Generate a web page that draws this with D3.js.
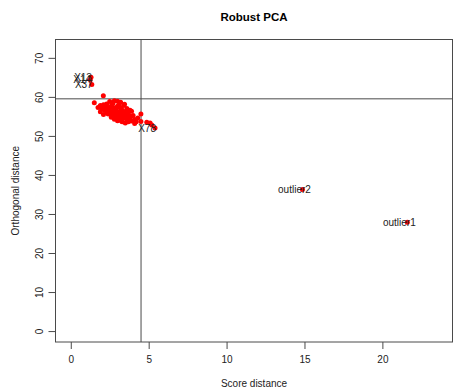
<!DOCTYPE html>
<html>
<head>
<meta charset="utf-8">
<script src="https://cdn.jsdelivr.net/npm/d3@7"></script>
<style>
  html, body { margin: 0; padding: 0; background: #fff; }
  svg { display: block; font-family: "Liberation Sans", Arial, sans-serif; }
</style>
</head>
<body>
<svg id="chart" width="453" height="389"></svg>
<script>
// Score distance (SD) and orthogonal distance (OD) for the regular observations
const scoreDist = [
  1.51, 2.09, 1.9, 2.0, 2.1, 2.2, 2.3, 2.4, 2.2, 2.5, 2.6, 2.7, 2.8, 2.6, 2.3, 2.0, 2.4, 2.7, 2.9, 3.0,
  3.1, 3.2, 3.3, 3.1, 2.9, 3.0, 3.2, 3.4, 3.5, 3.6, 3.4, 3.7, 3.8, 3.6, 3.3, 3.0, 2.8, 3.9, 4.1, 4.2,
  4.0, 3.9, 2.5, 2.8, 3.2, 2.1, 1.9, 2.6, 3.5, 3.7, 4.5, 4.5, 4.88, 5.09, 5.2, 2.45, 2.75, 3.05, 3.35, 2.55,
  2.85, 3.15, 3.45, 3.75, 2.35, 2.95, 3.25, 3.55, 3.85, 4.3, 4.1, 2.15, 2.65, 3.45, 3.65, 3.05, 2.75, 3.25, 3.55, 1.75,
  2.55, 3.0, 3.8, 3.3
];
const orthoDist = [
  58.5, 60.3, 57.8, 57.2, 58.0, 57.5, 58.2, 57.0, 56.6, 56.4, 57.6, 58.3, 57.1, 56.0, 56.1, 56.8, 55.6, 55.4, 56.6, 57.6,
  58.0, 57.2, 56.5, 55.8, 55.0, 54.6, 54.2, 55.3, 56.0, 57.0, 57.8, 55.6, 54.8, 54.2, 53.6, 53.9, 54.3, 53.8, 54.2, 53.6,
  55.2, 56.3, 58.8, 59.0, 58.6, 55.5, 56.2, 54.8, 53.3, 53.6, 55.6, 53.7, 53.5, 53.3, 52.8, 57.3, 56.8, 56.2, 55.7, 55.9,
  55.6, 55.1, 54.6, 54.3, 56.9, 57.3, 56.9, 56.4, 55.0, 54.6, 53.2, 57.7, 57.9, 58.1, 55.2, 55.4, 55.9, 53.8, 54.8, 57.3,
  57.4, 58.9, 56.6, 54.8
];

// Flagged observations, drawn with their labels
const flagNames = ["X13", "X14", "X37", "X78", "outlier2", "outlier1"];
const flagScore = [1.3, 1.25, 1.35, 5.41, 14.87, 21.6];
const flagOrtho = [65.0, 64.4, 63.2, 52.0, 36.3, 27.9];

// Cutoff values
const cutoffScore = 4.51;
const cutoffOrtho = 59.5;

// Axis ticks
const xTicks = [0, 5, 10, 15, 20];
const yTicks = [0, 10, 20, 30, 40, 50, 60, 70];

const svg = d3.select("#chart");
const plotLeft = 55.5, plotRight = 452.5, plotTop = 39.5, plotBottom = 342;

const x = d3.scaleLinear().domain([-0.98, 24.5]).range([plotLeft, plotRight]);
const y = d3.scaleLinear().domain([-2.8, 74.7]).range([plotBottom, plotTop]);

const axisColor = "#4a4a4a";
const textColor = "#222";

// Title
svg.append("text")
  .attr("x", (plotLeft + plotRight) / 2).attr("y", 21)
  .attr("text-anchor", "middle")
  .attr("font-weight", "bold").attr("font-size", 11.5)
  .attr("fill", "#000")
  .text("Robust PCA");

// Plot frame
svg.append("rect")
  .attr("x", plotLeft).attr("y", plotTop)
  .attr("width", plotRight - plotLeft).attr("height", plotBottom - plotTop)
  .attr("fill", "none").attr("stroke", axisColor).attr("stroke-width", 1);

// Bottom axis
const gx = svg.append("g")
  .attr("transform", `translate(0,${plotBottom})`)
  .call(d3.axisBottom(x).tickValues(xTicks).tickSize(7).tickPadding(7));
gx.select(".domain").remove();
gx.selectAll("line").attr("stroke", axisColor);
gx.selectAll("text").attr("font-size", 10).attr("fill", textColor)
  .attr("font-family", "Liberation Sans, Arial, sans-serif");

// Left axis, labels rotated as in base graphics
const gy = svg.append("g")
  .attr("transform", `translate(${plotLeft},0)`)
  .call(d3.axisLeft(y).tickValues(yTicks).tickSize(7));
gy.select(".domain").remove();
gy.selectAll("line").attr("stroke", axisColor);
gy.selectAll("text")
  .attr("font-size", 10).attr("fill", textColor)
  .attr("font-family", "Liberation Sans, Arial, sans-serif")
  .attr("transform", "rotate(-90)")
  .attr("x", 0).attr("y", -16.5).attr("dy", "0.35em")
  .attr("text-anchor", "middle");

// Axis titles
svg.append("text")
  .attr("x", (plotLeft + plotRight) / 2).attr("y", 387)
  .attr("text-anchor", "middle").attr("font-size", 10).attr("fill", textColor)
  .text("Score distance");
svg.append("text")
  .attr("transform", `translate(15,${(plotTop + plotBottom) / 2}) rotate(-90)`)
  .attr("text-anchor", "middle").attr("dy", "0.35em")
  .attr("font-size", 10).attr("fill", textColor)
  .text("Orthogonal distance");

// Cutoff lines
svg.append("line")
  .attr("x1", x(cutoffScore)).attr("x2", x(cutoffScore))
  .attr("y1", plotTop).attr("y2", plotBottom)
  .attr("stroke", axisColor).attr("stroke-width", 1);
svg.append("line")
  .attr("x1", plotLeft).attr("x2", plotRight)
  .attr("y1", y(cutoffOrtho)).attr("y2", y(cutoffOrtho))
  .attr("stroke", axisColor).attr("stroke-width", 1);

// Regular observations
const pts = scoreDist.map((s, i) => ({ sd: s, od: orthoDist[i] }));
svg.append("g").selectAll("circle").data(pts).join("circle")
  .attr("cx", d => x(d.sd)).attr("cy", d => y(d.od))
  .attr("r", 2.5).attr("fill", "#ff0000");

// Flagged observations
const flags = flagNames.map((n, i) => ({ name: n, sd: flagScore[i], od: flagOrtho[i] }));
svg.append("g").selectAll("circle").data(flags).join("circle")
  .attr("cx", d => x(d.sd)).attr("cy", d => y(d.od))
  .attr("r", 2.5).attr("fill", "#ff0000");

// Labels for flagged observations (overplotted ones stay stacked on their points)
svg.append("g").selectAll("text").data(flags).join("text")
  .attr("x", d => x(d.sd) - 8).attr("y", d => y(d.od))
  .attr("dy", "0.35em").attr("text-anchor", "middle")
  .attr("font-size", 10).attr("fill", textColor)
  .text(d => d.name);
</script>
</body>
</html>
